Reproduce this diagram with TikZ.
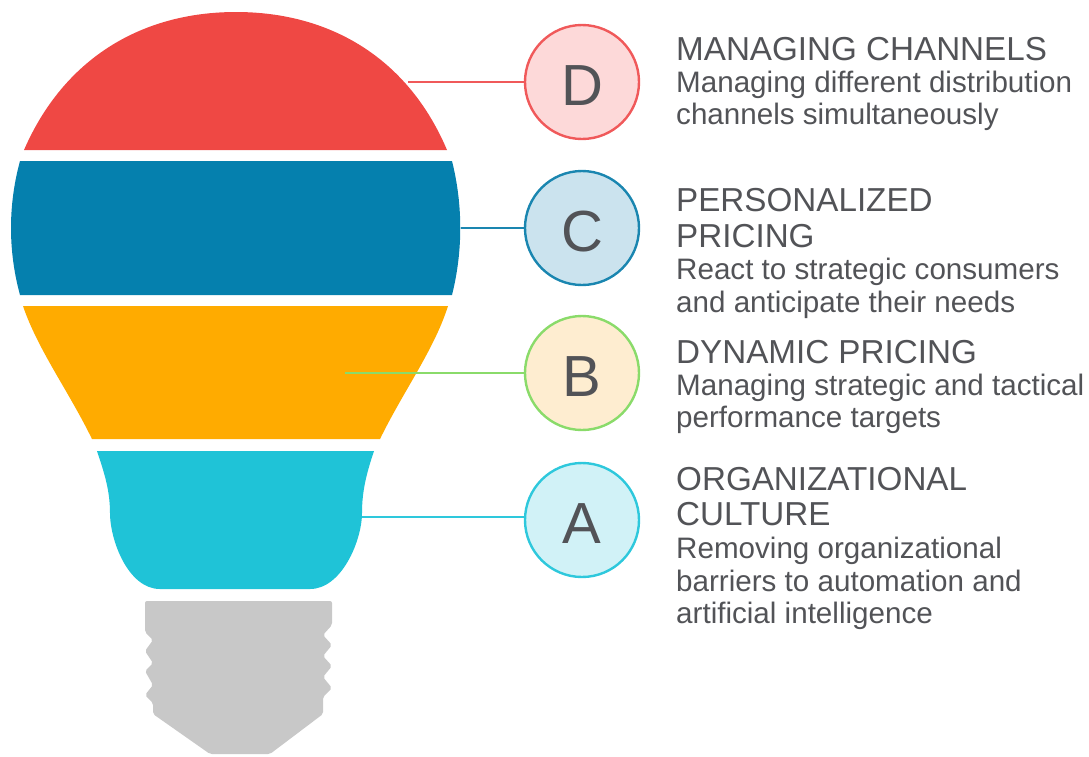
\documentclass[tikz,border=0pt]{standalone}
\usepackage{fontspec}
\setmainfont{Liberation Sans}
\usepackage{tikz}
\usetikzlibrary{positioning}
\definecolor{RedPart}{HTML}{EF4844}
\definecolor{BluePart}{HTML}{0580AE}
\definecolor{OrangePart}{HTML}{FFAB00}
\definecolor{TealPart}{HTML}{1FC3D7}
\definecolor{BasePart}{HTML}{C8C8C8}
\definecolor{LabelText}{HTML}{525357}
\definecolor{RedEdge}{HTML}{F0595A}
\definecolor{RedFill}{HTML}{FDD9D9}
\definecolor{BlueEdge}{HTML}{1A86B0}
\definecolor{BlueFill}{HTML}{CBE3EE}
\definecolor{GreenEdge}{HTML}{8ADB6A}
\definecolor{OrangeFill}{HTML}{FEEDD0}
\definecolor{TealEdge}{HTML}{2EC8DC}
\definecolor{TealFill}{HTML}{D1F2F7}
\tikzset{
  badge/.style={circle, draw, line width=2.4pt, minimum size=114pt, inner sep=0pt, text height=46pt, text depth=0pt, text=LabelText, font=\fontsize{58}{58}\selectfont},
  heading/.style={inner sep=0pt, anchor=base west, align=left, text=LabelText, font=\fontsize{33.2}{35}\selectfont},
  detail/.style={inner sep=0pt, anchor=base west, align=left, text=LabelText, font=\fontsize{29.6}{33}\selectfont},
  leader/.style={line width=1.6pt},
}

\begin{document}
\begin{tikzpicture}[x=1pt, y=-1pt]
\useasboundingbox (0,0) rectangle (1089,756);
% bulb
\fill[RedPart] (24,150) .. controls (64,58) and (142,12) .. (236,12) .. controls (330,12) and (408,58) .. (447,150) -- cycle;
\fill[BluePart] (20,161) .. controls (8,205) and (8,251) .. (20,295) -- (452,295) .. controls (463,251) and (463,205) .. (452,161) -- cycle;
\fill[OrangePart] (23,306) .. controls (38,350) and (68,390) .. (92,439) -- (380,439) .. controls (404,390) and (434,350) .. (448,306) -- cycle;
\fill[TealPart] (97,451) .. controls (104,472) and (110,490) .. (110,513) .. controls (110,540) and (128,589) .. (160,589) -- (310,589) .. controls (342,589) and (362,540) .. (362,513) .. controls (362,490) and (367,472) .. (374,451) -- cycle;
\fill[BasePart, rounded corners=2pt] (145,601) -- (332,601) -- (332,625) -- (323,635) -- (332,645) -- (323,656) -- (332,666) -- (323,677) -- (332,688) -- (323,697) -- (323,714) -- (270,754) -- (210,754) -- (153,714) -- (153,703) -- (145,695) -- (153,685) -- (145,671) -- (153,663) -- (145,651) -- (153,640) -- (145,632) -- cycle;
% badges
\node[badge, draw=RedEdge, fill=RedFill] (d) at (582,82) {D};
\node[badge, draw=BlueEdge, fill=BlueFill] (c) at (582,228) {C};
\node[badge, draw=GreenEdge, fill=OrangeFill] (b) at (582,373) {B};
\node[badge, draw=TealEdge, fill=TealFill] (a) at (582,520) {A};
% leaders
\coordinate (dstart) at (408,82);
\coordinate (cstart) at (461,228);
\coordinate (bstart) at (345,373);
\coordinate (astart) at (362,517);
\draw[leader, RedEdge] (dstart) -- (d.west |- dstart);
\draw[leader, BlueEdge] (cstart) -- (c);
\draw[leader, GreenEdge] (bstart) -- (b);
\draw[leader, TealEdge] (astart) -- (a.west |- astart);
% labels
\node[heading] (dhead) at (676,60) {MANAGING CHANNELS};
\node[detail] (dtext1) at (676,92) {Managing different distribution};
\node[detail] (dtext2) at (676,124) {channels simultaneously};
\node[heading] (chead1) at (676,211) {PERSONALIZED};
\node[heading] (chead2) at (676,247) {PRICING};
\node[detail] (ctext1) at (676,279) {React to strategic consumers};
\node[detail] (ctext2) at (676,312) {and anticipate their needs};
\node[heading] (bhead) at (676,363) {DYNAMIC PRICING};
\node[detail] (btext1) at (676,395) {Managing strategic and tactical};
\node[detail] (btext2) at (676,427) {performance targets};
\node[heading] (ahead1) at (676,490) {ORGANIZATIONAL};
\node[heading] (ahead2) at (676,525) {CULTURE};
\node[detail] (atext1) at (676,558) {Removing organizational};
\node[detail] (atext2) at (676,591) {barriers to automation and};
\node[detail] (atext3) at (676,623) {artificial intelligence};
\end{tikzpicture}
\end{document}
